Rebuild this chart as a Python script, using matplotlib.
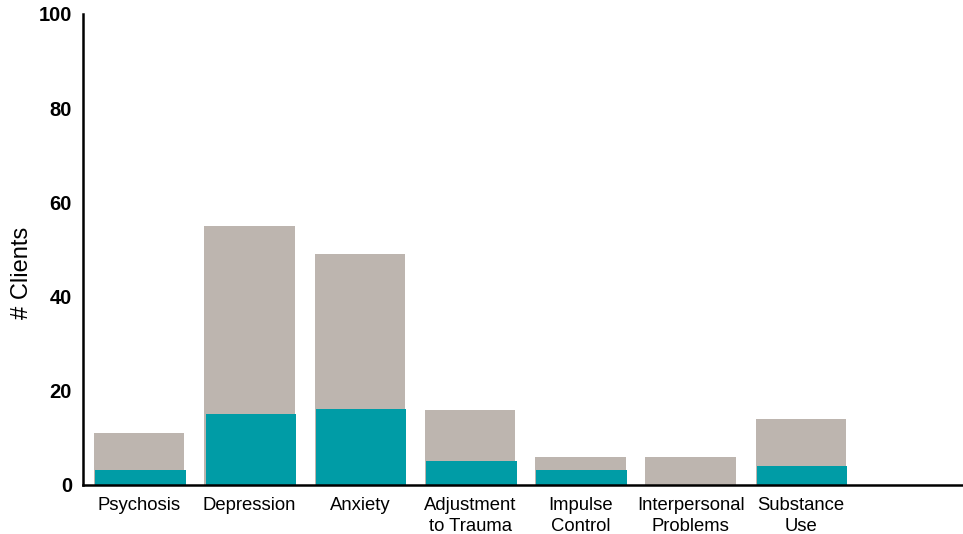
import matplotlib.pyplot as plt

plt.rcParams['font.family'] = ['Liberation Sans', 'DejaVu Sans']

# Dati
categories = ["Psychosis", "Depression", "Anxiety", "Adjustment\nto Trauma",
              "Impulse\nControl", "Interpersonal\nProblems", "Substance\nUse"]
total_clients = [11, 55, 49, 16, 6, 6, 14]
subset_clients = [3.2, 15.1, 16.2, 5.1, 3.2, 0, 4.1]

fig = plt.figure(figsize=(9.63, 5.34), dpi=100)
ax = fig.add_axes([0.0862, 0.0918, 0.9138, 0.8822])

x = list(range(len(categories)))
ax.bar(x, total_clients, width=0.82, color="#BDB5AF")
ax.bar([i + 0.012 for i in x], subset_clients, width=0.82, color="#009CA6")

ax.set_xlim(-0.51, 7.47)
ax.set_ylim(0, 100)
ax.set_yticks([0, 20, 40, 60, 80, 100])
ax.set_xticks(x)
ax.set_xticklabels(categories, fontsize=13.3, linespacing=1.25)
ax.tick_params(axis="both", length=0)
ax.tick_params(axis="y", pad=8, labelsize=14.5)
ax.tick_params(axis="x", pad=9)
for lbl in ax.get_yticklabels():
    lbl.set_fontweight("bold")

ax.set_ylabel("# Clients", fontsize=17)
ax.yaxis.set_label_coords(-0.057, 0.45)

for s in ["top", "right"]:
    ax.spines[s].set_visible(False)
for s in ["left", "bottom"]:
    ax.spines[s].set_linewidth(1.8)
ax.spines["bottom"].set_zorder(5)

plt.savefig("out.png", dpi=100)
